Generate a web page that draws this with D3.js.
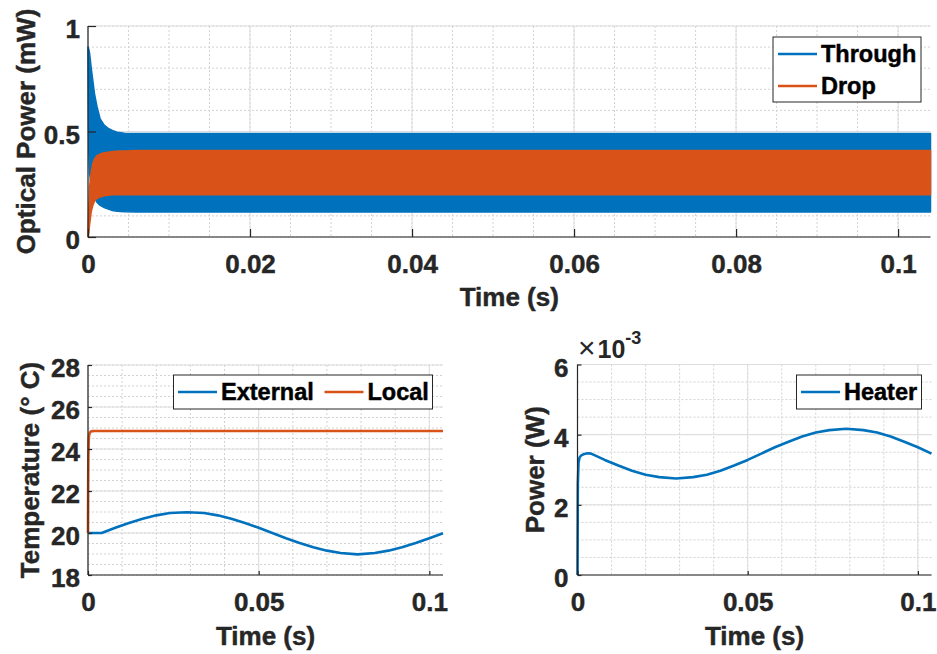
<!DOCTYPE html>
<html>
<head>
<meta charset="utf-8">
<script src="https://cdn.jsdelivr.net/npm/d3@7"></script>
<style>
  html, body { margin: 0; padding: 0; background: #fff; }
  svg { display: block; }
  text { font-family: "Liberation Sans", Arial, Helvetica, sans-serif; }
  .heavy { stroke-width: 0.45px; paint-order: stroke; }
</style>
</head>
<body>
<svg id="fig" width="937" height="654"></svg>
<script>
// ---- Optical power (mW): envelopes of the fast-oscillating Through / Drop signals ----
const opticalTime   = [0, 0.0001, 0.0002, 0.0004, 0.0006, 0.0008, 0.0011, 0.0015, 0.0020, 0.0025, 0.0030, 0.0036, 0.0045, 0.006, 0.010, 0.030, 0.060, 0.090, 0.104];
const throughUpper  = [0.90, 0.89, 0.87, 0.80, 0.74, 0.68, 0.62, 0.56, 0.53, 0.515, 0.505, 0.497, 0.492, 0.49, 0.49, 0.49, 0.49, 0.49, 0.49];
const throughLower  = [0.90, 0.40, 0.30, 0.24, 0.21, 0.185, 0.165, 0.15, 0.14, 0.132, 0.126, 0.122, 0.12, 0.118, 0.118, 0.118, 0.118, 0.118, 0.118];
const dropUpper     = [0, 0.14, 0.24, 0.31, 0.35, 0.37, 0.385, 0.393, 0.399, 0.402, 0.405, 0.407, 0.408, 0.41, 0.41, 0.41, 0.41, 0.41, 0.41];
const dropLower     = [0, 0.02, 0.06, 0.12, 0.15, 0.17, 0.182, 0.19, 0.195, 0.198, 0.2, 0.2, 0.2, 0.2, 0.2, 0.2, 0.2, 0.2, 0.2];

// ---- Temperatures (deg C) ----
const localTime     = [0, 0.00005, 0.0001, 0.0002, 0.0003, 0.0005, 0.0008, 0.0012, 0.002, 0.104];
const localTemp     = [20.0, 22.4, 23.6, 24.35, 24.62, 24.77, 24.83, 24.85, 24.86, 24.86];
const extTime       = [0, 0.004, 0.008, 0.012, 0.016, 0.020, 0.024, 0.029, 0.034, 0.038, 0.042, 0.046, 0.050, 0.054, 0.058, 0.062, 0.066, 0.070, 0.074, 0.079, 0.084, 0.088, 0.092, 0.096, 0.100, 0.104];
const extTemp       = [20.0, 20.0, 20.25, 20.48, 20.68, 20.84, 20.95, 20.99, 20.95, 20.84, 20.68, 20.48, 20.25, 20.0, 19.75, 19.52, 19.32, 19.16, 19.05, 18.98, 19.05, 19.16, 19.32, 19.52, 19.75, 19.99];

// ---- Heater power (W) ----
const heaterTime    = [0, 0.0001, 0.0003, 0.0006, 0.001, 0.002, 0.003, 0.004, 0.008, 0.012, 0.016, 0.020, 0.024, 0.029, 0.034, 0.038, 0.042, 0.046, 0.050, 0.054, 0.058, 0.062, 0.066, 0.070, 0.074, 0.079, 0.084, 0.088, 0.092, 0.096, 0.100, 0.104];
const heaterPower   = [0, 0.0026, 0.0032, 0.00335, 0.0034, 0.00345, 0.00347, 0.00346, 0.00328, 0.00312, 0.00297, 0.00286, 0.00279, 0.00275, 0.00279, 0.00286, 0.00297, 0.00312, 0.00328, 0.00346, 0.00364, 0.0038, 0.00395, 0.00406, 0.00413, 0.00417, 0.00413, 0.00406, 0.00395, 0.0038, 0.00364, 0.00346];

// ---- Tick values and labels ----
const topXTicks   = [0, 0.02, 0.04, 0.06, 0.08, 0.1];
const topXLabels  = ["0", "0.02", "0.04", "0.06", "0.08", "0.1"];
const topYTicks   = [0, 0.5, 1];
const topYLabels  = ["0", "0.5", "1"];
const lowXTicks   = [0, 0.05, 0.1];
const lowXLabels  = ["0", "0.05", "0.1"];
const tempYTicks  = [18, 20, 22, 24, 26, 28];
const powYTicks   = [0, 0.002, 0.004, 0.006];
const powYLabels  = ["0", "2", "4", "6"];

const BLUE = "#0072BD", ORANGE = "#D95319", AXIS = "#262626";
const svg = d3.select("#fig");

function heavy(sel, color) {
  return sel.classed("heavy", true).attr("stroke", color);
}

function panel(o) {
  const x = d3.scaleLinear().domain(o.xDomain).range([o.left, o.right]);
  const y = d3.scaleLinear().domain(o.yDomain).range([o.bottom, o.top]);
  const g = svg.append("g");

  // minor grid (dotted)
  g.append("g").selectAll("line").data(o.xMinor).join("line")
    .attr("x1", d => x(d)).attr("x2", d => x(d)).attr("y1", o.top).attr("y2", o.bottom)
    .attr("stroke", "#d2d2d2").attr("stroke-width", 1).attr("stroke-dasharray", "2,2");
  g.append("g").selectAll("line").data(o.yMinor).join("line")
    .attr("y1", d => y(d)).attr("y2", d => y(d)).attr("x1", o.left).attr("x2", o.right)
    .attr("stroke", "#d2d2d2").attr("stroke-width", 1).attr("stroke-dasharray", "2,2");
  // major grid (solid)
  g.append("g").selectAll("line").data(o.xTicks).join("line")
    .attr("x1", d => x(d)).attr("x2", d => x(d)).attr("y1", o.top).attr("y2", o.bottom)
    .attr("stroke", "#dedede").attr("stroke-width", 1);
  g.append("g").selectAll("line").data(o.yTicks).join("line")
    .attr("y1", d => y(d)).attr("y2", d => y(d)).attr("x1", o.left).attr("x2", o.right)
    .attr("stroke", "#dedede").attr("stroke-width", 1);

  const plot = g.append("g");
  o.draw(plot, x, y);

  // axes: bottom and left only, ticks pointing inward
  const xa = d3.axisBottom(x).tickValues(o.xTicks).tickSize(-o.tickLen).tickPadding(0)
    .tickFormat((d, i) => o.xLabels[i]);
  const gx = g.append("g").attr("transform", `translate(0,${o.bottom})`).call(xa);
  gx.attr("font-family", null).attr("font-size", null);
  gx.select(".domain").attr("stroke", AXIS).attr("stroke-width", 1.2).attr("d", `M${o.left},0H${o.right}`);
  gx.selectAll(".tick line").attr("stroke", AXIS).attr("stroke-width", 1.2);
  heavy(gx.selectAll(".tick text").attr("y", o.xLabelBase - o.bottom).attr("dy", 0)
    .attr("fill", AXIS).style("font-size", "26px").style("font-weight", "bold"), AXIS);

  const ya = d3.axisLeft(y).tickValues(o.yTicks).tickSize(-o.tickLen).tickPadding(0)
    .tickFormat((d, i) => o.yLabels[i]);
  const gy = g.append("g").attr("transform", `translate(${o.left},0)`).call(ya);
  gy.attr("font-family", null).attr("font-size", null);
  gy.select(".domain").attr("stroke", AXIS).attr("stroke-width", 1.2).attr("d", `M0,${o.top}V${o.bottom}`);
  gy.selectAll(".tick line").attr("stroke", AXIS).attr("stroke-width", 1.2);
  heavy(gy.selectAll(".tick text").attr("x", -o.yLabelGap).attr("dy", "0.45em")
    .attr("fill", AXIS).style("font-size", "26px").style("font-weight", "bold"), AXIS);

  // axis titles
  heavy(g.append("text").attr("x", (o.left + o.right) / 2).attr("y", o.xTitleBase)
    .attr("text-anchor", "middle").attr("fill", AXIS)
    .style("font-size", "26px").style("font-weight", "bold").text("Time (s)"), AXIS);
  heavy(g.append("text")
    .attr("transform", `translate(${o.yTitleBase},${(o.top + o.bottom) / 2}) rotate(-90)`)
    .attr("text-anchor", "middle").attr("fill", AXIS)
    .style("font-size", "26px").style("font-weight", "bold").text(o.yTitle), AXIS);

  // legend
  const L = o.legend;
  const lg = g.append("g");
  lg.append("rect").attr("x", L.x).attr("y", L.y).attr("width", L.w).attr("height", L.h)
    .attr("fill", "#fff").attr("stroke", AXIS).attr("stroke-width", 1);
  L.items.forEach(it => {
    lg.append("line").attr("x1", it.lx).attr("x2", it.lx + 39).attr("y1", it.ly).attr("y2", it.ly)
      .attr("stroke", it.color).attr("stroke-width", 2.6);
    heavy(lg.append("text").attr("x", it.lx + 43).attr("y", it.ly).attr("dy", "0.36em")
      .attr("fill", "#000").style("font-size", "23.5px").style("font-weight", "bold").text(it.label), "#000");
  });
  return { x, y, g };
}

const range = (a, b, s) => d3.range(Math.round((b - a) / s) + 1).map(i => +(a + i * s).toFixed(6));

// ---------- Top: optical power ----------
panel({
  left: 88, right: 930.5, top: 26, bottom: 237,
  xDomain: [0, 0.104], yDomain: [0, 1],
  xTicks: topXTicks, xLabels: topXLabels, yTicks: topYTicks, yLabels: topYLabels,
  xMinor: range(0, 0.1, 0.005), yMinor: range(0, 1, 0.1),
  tickLen: 8, xLabelBase: 272.5, yLabelGap: 8, xTitleBase: 306, yTitleBase: 35,
  yTitle: "Optical Power (mW)",
  draw: (p, x, y) => {
    const thr = opticalTime.map((t, i) => ({ t, hi: throughUpper[i], lo: throughLower[i] }));
    const drp = opticalTime.map((t, i) => ({ t, hi: dropUpper[i], lo: dropLower[i] }));
    const band = d3.area().x(d => x(d.t)).y0(d => y(d.lo)).y1(d => y(d.hi));
    p.append("path").datum(thr).attr("d", band).attr("fill", BLUE)
      .attr("stroke", BLUE).attr("stroke-width", 1.5).attr("stroke-linejoin", "round");
    p.append("path").datum(drp).attr("d", band).attr("fill", ORANGE)
      .attr("stroke", ORANGE).attr("stroke-width", 1.5).attr("stroke-linejoin", "round");
  },
  legend: { x: 773, y: 37, w: 148, h: 65, items: [
    { lx: 778, ly: 54, color: BLUE, label: "Through" },
    { lx: 778, ly: 86, color: ORANGE, label: "Drop" } ] }
});

// ---------- Bottom left: temperatures ----------
panel({
  left: 88, right: 443, top: 365, bottom: 575,
  xDomain: [0, 0.104], yDomain: [18, 28],
  xTicks: lowXTicks, xLabels: lowXLabels, yTicks: tempYTicks, yLabels: tempYTicks.map(String),
  xMinor: range(0, 0.1, 0.01), yMinor: range(18, 28, 0.5),
  tickLen: 4, xLabelBase: 611, yLabelGap: 8, xTitleBase: 645, yTitleBase: 39,
  yTitle: "Temperature (° C)",
  draw: (p, x, y) => {
    const line = d3.line().x(d => x(d[0])).y(d => y(d[1]));
    p.append("path").datum(extTime.map((t, i) => [t, extTemp[i]])).attr("d", line)
      .attr("fill", "none").attr("stroke", BLUE).attr("stroke-width", 2.6).attr("stroke-linejoin", "round");
    p.append("path").datum(localTime.map((t, i) => [t, localTemp[i]])).attr("d", line)
      .attr("fill", "none").attr("stroke", ORANGE).attr("stroke-width", 2.6).attr("stroke-linejoin", "round");
  },
  legend: { x: 173.5, y: 375, w: 259, h: 34, items: [
    { lx: 178, ly: 392, color: BLUE, label: "External" },
    { lx: 324.5, ly: 392, color: ORANGE, label: "Local" } ] }
});

// ---------- Bottom right: heater power ----------
panel({
  left: 577.5, right: 931.5, top: 364.5, bottom: 575,
  xDomain: [0, 0.104], yDomain: [0, 0.006],
  xTicks: lowXTicks, xLabels: lowXLabels, yTicks: powYTicks, yLabels: powYLabels,
  xMinor: range(0, 0.1, 0.01), yMinor: range(0, 0.006, 0.0005),
  tickLen: 4, xLabelBase: 611, yLabelGap: 9, xTitleBase: 645, yTitleBase: 544,
  yTitle: "Power (W)",
  draw: (p, x, y) => {
    const line = d3.line().x(d => x(d[0])).y(d => y(d[1]));
    p.append("path").datum(heaterTime.map((t, i) => [t, heaterPower[i]])).attr("d", line)
      .attr("fill", "none").attr("stroke", BLUE).attr("stroke-width", 2.6).attr("stroke-linejoin", "round");
  },
  legend: { x: 796.5, y: 375, w: 125, h: 34, items: [
    { lx: 801, ly: 392, color: BLUE, label: "Heater" } ] }
});

// exponent marker for the heater power axis
const ex = svg.append("text").attr("x", 578).attr("y", 358).attr("fill", AXIS);
ex.append("tspan").style("font-size", "30px").style("font-weight", "normal").text("×");
ex.append("tspan").attr("dx", 2).style("font-size", "25px").style("font-weight", "bold").text("10");
ex.append("tspan").attr("dy", -14).style("font-size", "18px").style("font-weight", "bold").text("-3");
</script>
</body>
</html>
